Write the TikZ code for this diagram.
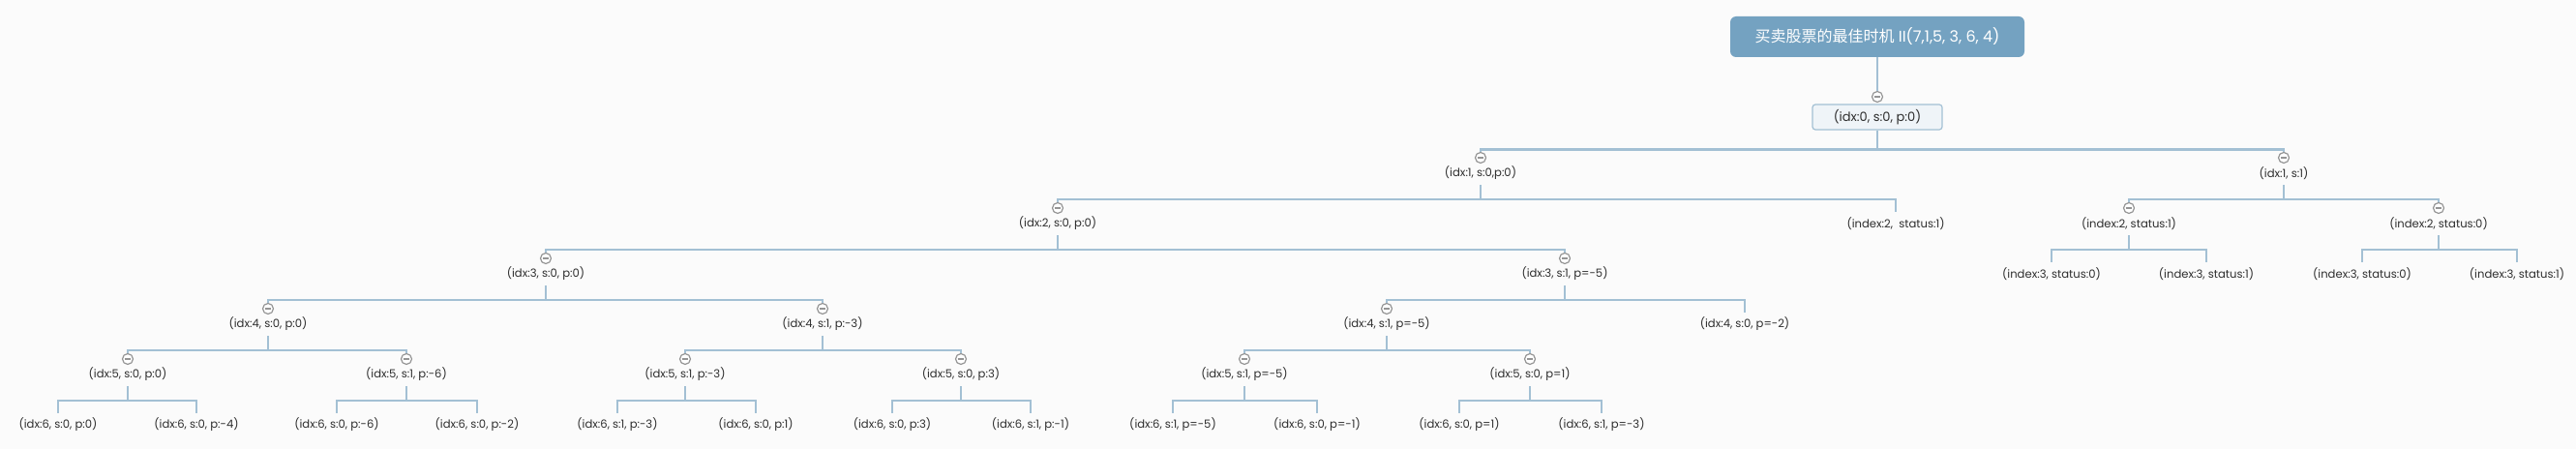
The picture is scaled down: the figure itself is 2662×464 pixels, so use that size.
\documentclass[tikz,border=0pt]{standalone}
\usepackage{fontspec}
\setmainfont{Poppins}
\newfontfamily\cjk{Noto Sans CJK SC}
\usepackage{xcolor}

\definecolor{rootblue}{HTML}{74A2C1}
\definecolor{linkblue}{HTML}{A3C0D4}
\definecolor{boxfill}{HTML}{EFF4F8}
\definecolor{foldgray}{HTML}{959595}
\definecolor{paper}{HTML}{FBFBFB}
\definecolor{ink}{HTML}{2E2E2E}

\begin{document}
\begin{tikzpicture}[
  x=.5pt,
  y=-.5pt,
  link/.style={draw=linkblue,line width=1.1pt},
  title/.style={fill=rootblue,rounded corners=3pt,text=white,
    minimum width=152pt,minimum height=21pt,font=\fontsize{8}{10}\selectfont},
  rootstate/.style={draw=linkblue,fill=boxfill,rounded corners=1.5pt,line width=.6pt,
    minimum width=67pt,minimum height=13pt,inner sep=0pt,text=ink,
    font=\fontsize{6.5}{8}\selectfont},
  state/.style={inner sep=0pt,minimum height=12pt,text=ink,font=\fontsize{5.8}{7}\selectfont},
  fold/.style={circle,draw=foldgray,fill=white,line width=.6pt,minimum size=5.5pt,inner sep=0pt,
    path picture={\draw[foldgray,line width=1pt,shorten <=1.1pt,shorten >=1.1pt]
      (path picture bounding box.west) -- (path picture bounding box.east);}}
]
\useasboundingbox[fill=paper] (0,0) rectangle (2662,464);

% level 0 and 1
\node[title] (root) at (1940,38) {{\cjk 买卖股票的最佳时机} II(7,1,5, 3, 6, 4)};
\node[fold] (f1) at (1940,100) {};
\node[rootstate] (s1) at (1940,121) {(idx:0, s:0, p:0)};

% level 2
\node[fold] (f2a) at (1530,163) {};
\node[state] (s2a) at (1530,179) {(idx:1, s:0,p:0)};
\node[fold] (f2b) at (2360,163) {};
\node[state] (s2b) at (2360,179) {(idx:1, s:1)};

% level 3
\node[fold] (f3a) at (1093,215) {};
\node[state] (s3a) at (1093,231) {(idx:2, s:0, p:0)};
\node[state] (s3b) at (1959,231) {(index:2,~ status:1)};
\node[fold] (f3c) at (2200,215) {};
\node[state] (s3c) at (2200,231) {(index:2, status:1)};
\node[fold] (f3d) at (2520,215) {};
\node[state] (s3d) at (2520,231) {(index:2, status:0)};

% level 4
\node[fold] (f4a) at (564,267) {};
\node[state] (s4a) at (564,283) {(idx:3, s:0, p:0)};
\node[fold] (f4b) at (1617,267) {};
\node[state] (s4b) at (1617,283) {(idx:3, s:1, p=-5)};
\node[state] (s4c) at (2120,283) {(index:3, status:0)};
\node[state] (s4d) at (2280,283) {(index:3, status:1)};
\node[state] (s4e) at (2441,283) {(index:3, status:0)};
\node[state] (s4f) at (2601,283) {(index:3, status:1)};

% level 5
\node[fold] (f5a) at (277,319) {};
\node[state] (s5a) at (277,335) {(idx:4, s:0, p:0)};
\node[fold] (f5b) at (850,319) {};
\node[state] (s5b) at (850,335) {(idx:4, s:1, p:-3)};
\node[fold] (f5c) at (1433,319) {};
\node[state] (s5c) at (1433,335) {(idx:4, s:1, p=-5)};
\node[state] (s5d) at (1803,335) {(idx:4, s:0, p=-2)};

% level 6
\node[fold] (f6a) at (132,371) {};
\node[state] (s6a) at (132,387) {(idx:5, s:0, p:0)};
\node[fold] (f6b) at (420,371) {};
\node[state] (s6b) at (420,387) {(idx:5, s:1, p:-6)};
\node[fold] (f6c) at (708,371) {};
\node[state] (s6c) at (708,387) {(idx:5, s:1, p:-3)};
\node[fold] (f6d) at (993,371) {};
\node[state] (s6d) at (993,387) {(idx:5, s:0, p:3)};
\node[fold] (f6e) at (1286,371) {};
\node[state] (s6e) at (1286,387) {(idx:5, s:1, p=-5)};
\node[fold] (f6f) at (1581,371) {};
\node[state] (s6f) at (1581,387) {(idx:5, s:0, p=1)};

% level 7
\node[state] (s7a) at (60,439) {(idx:6, s:0, p:0)};
\node[state] (s7b) at (203,439) {(idx:6, s:0, p:-4)};
\node[state] (s7c) at (348,439) {(idx:6, s:0, p:-6)};
\node[state] (s7d) at (493,439) {(idx:6, s:0, p:-2)};
\node[state] (s7e) at (638,439) {(idx:6, s:1, p:-3)};
\node[state] (s7f) at (781,439) {(idx:6, s:0, p:1)};
\node[state] (s7g) at (922,439) {(idx:6, s:0, p:3)};
\node[state] (s7h) at (1065,439) {(idx:6, s:1, p:-1)};
\node[state] (s7i) at (1212,439) {(idx:6, s:1, p=-5)};
\node[state] (s7j) at (1361,439) {(idx:6, s:0, p=-1)};
\node[state] (s7k) at (1508,439) {(idx:6, s:0, p=1)};
\node[state] (s7l) at (1655,439) {(idx:6, s:1, p=-3)};

% connectors
\draw[link] (root.south) -- (f1.north);
\draw[link] (s1.south) -- ++(0,20) -| (f2a.north);
\draw[link] (s1.south) -- ++(0,20) -| (f2b.north);

\draw[link] (s2a.south) -- ++(0,15) -| (f3a.north);
\draw[link] (s2a.south) -- ++(0,15) -| (s3b.north);
\draw[link] (s2b.south) -- ++(0,15) -| (f3c.north);
\draw[link] (s2b.south) -- ++(0,15) -| (f3d.north);

\draw[link] (s3a.south) -- ++(0,15) -| (f4a.north);
\draw[link] (s3a.south) -- ++(0,15) -| (f4b.north);
\draw[link] (s3c.south) -- ++(0,15) -| (s4c.north);
\draw[link] (s3c.south) -- ++(0,15) -| (s4d.north);
\draw[link] (s3d.south) -- ++(0,15) -| (s4e.north);
\draw[link] (s3d.south) -- ++(0,15) -| (s4f.north);

\draw[link] (s4a.south) -- ++(0,15) -| (f5a.north);
\draw[link] (s4a.south) -- ++(0,15) -| (f5b.north);
\draw[link] (s4b.south) -- ++(0,15) -| (f5c.north);
\draw[link] (s4b.south) -- ++(0,15) -| (s5d.north);

\draw[link] (s5a.south) -- ++(0,15) -| (f6a.north);
\draw[link] (s5a.south) -- ++(0,15) -| (f6b.north);
\draw[link] (s5b.south) -- ++(0,15) -| (f6c.north);
\draw[link] (s5b.south) -- ++(0,15) -| (f6d.north);
\draw[link] (s5c.south) -- ++(0,15) -| (f6e.north);
\draw[link] (s5c.south) -- ++(0,15) -| (f6f.north);

\draw[link] (s6a.south) -- ++(0,15) -| (s7a.north);
\draw[link] (s6a.south) -- ++(0,15) -| (s7b.north);
\draw[link] (s6b.south) -- ++(0,15) -| (s7c.north);
\draw[link] (s6b.south) -- ++(0,15) -| (s7d.north);
\draw[link] (s6c.south) -- ++(0,15) -| (s7e.north);
\draw[link] (s6c.south) -- ++(0,15) -| (s7f.north);
\draw[link] (s6d.south) -- ++(0,15) -| (s7g.north);
\draw[link] (s6d.south) -- ++(0,15) -| (s7h.north);
\draw[link] (s6e.south) -- ++(0,15) -| (s7i.north);
\draw[link] (s6e.south) -- ++(0,15) -| (s7j.north);
\draw[link] (s6f.south) -- ++(0,15) -| (s7k.north);
\draw[link] (s6f.south) -- ++(0,15) -| (s7l.north);

\end{tikzpicture}
\end{document}
